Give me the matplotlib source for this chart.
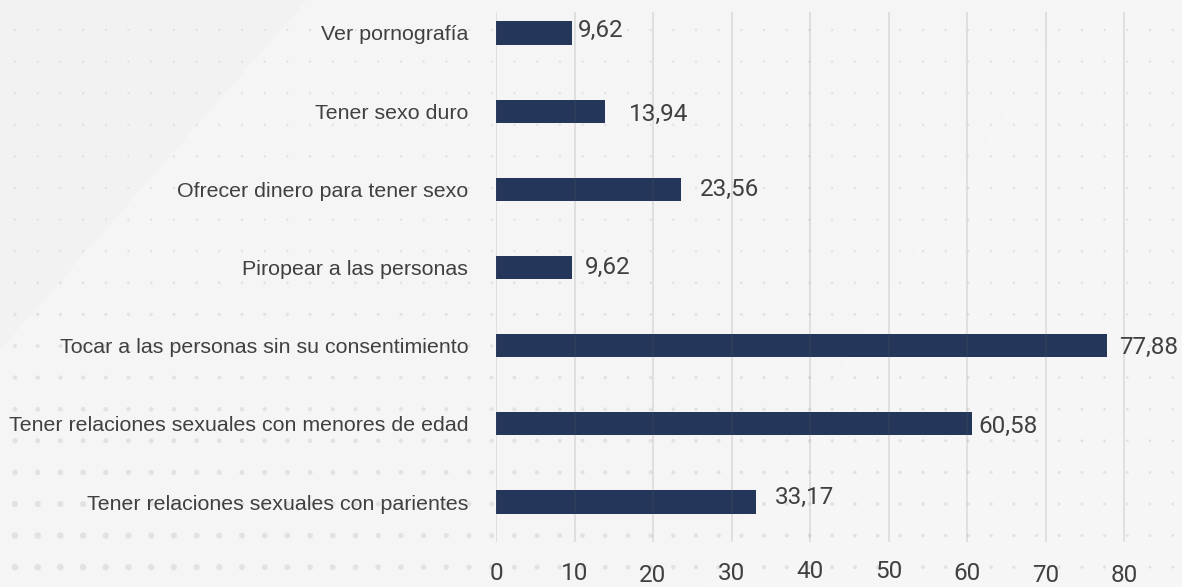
import numpy as np
import matplotlib
matplotlib.use("Agg")
import matplotlib.pyplot as plt
from matplotlib import font_manager as fm
from matplotlib.patches import Polygon

# ---------------- data ----------------
categories = [
    "Ver pornografía",
    "Tener sexo duro",
    "Ofrecer dinero para tener sexo",
    "Piropear a las personas",
    "Tocar a las personas sin su consentimiento",
    "Tener relaciones sexuales con menores de edad",
    "Tener relaciones sexuales con parientes",
]
values = [9.62, 13.94, 23.56, 9.62, 77.88, 60.58, 33.17]
value_labels = ["9,62", "13,94", "23,56", "9,62", "77,88", "60,58", "33,17"]
x_ticks = [0, 10, 20, 30, 40, 50, 60, 70, 80]
x_tick_labels = ["0", "10", "20", "30", "40", "50", "60", "70", "80"]

# ---------------- style ----------------
BAR = "#24375a"
TXT = "#404040"
BG = "#f4f4f4"
names = {f.name for f in fm.fontManager.ttflist}
narrow = "Liberation Sans Narrow" if "Liberation Sans Narrow" in names else "Roboto"
regular = "Liberation Sans" if "Liberation Sans" in names else "DejaVu Sans"
# small per-label nudges (pixels) to mimic the reference placement
label_dx = [6, 24, 19, 13, 12, 7, 18]
label_dy = [3, -3, 0, 0, -2, -3, 5]
tick_dy = [0, 1, 3, 1, -2, -1, 1, 2, 2]

W, H, DPI = 1182, 587, 100
fig = plt.figure(figsize=(W / DPI, H / DPI), dpi=DPI, facecolor=BG)

# background decoration
bg = fig.add_axes([0, 0, 1, 1], zorder=-5)
bg.set_xlim(0, W)
bg.set_ylim(H, 0)
bg.axis("off")
bg.add_patch(Polygon([[307, 0], [0, 350], [0, 0]], closed=True,
                     facecolor="#f2f2f2", edgecolor="none"))
bg.add_patch(Polygon([[307, 0], [1077, 0], [700, H], [0, H], [0, 350]], closed=True,
                     facecolor="#f5f5f5", edgecolor="none"))
bg.add_patch(Polygon([[1077, 0], [W, 0], [W, H], [700, H]], closed=True,
                     facecolor="#f6f6f6", edgecolor="none"))
xs = np.arange(15, W, 22.7)
ys = np.arange(30, H, 31.6)
gx, gy = np.meshgrid(xs, ys)
fy = np.clip((gy - 250) / 300, 0, 1)
fx = np.clip(1 - gx / 1300, 0, 1)
d = 2.4 + 4.5 * fy * fx
bg.scatter(gx.ravel(), gy.ravel(), s=(d.ravel() * 0.72) ** 2, c="#e2e2e2",
           edgecolors="none")

# main axes
left, right, top, bottom = 496, 1160, 12, 542
ax = fig.add_axes([left / W, 1 - bottom / H, (right - left) / W, (bottom - top) / H])
ax.patch.set_alpha(0)
px_per_unit = 7.85
ax.set_xlim(0, (right - left) / px_per_unit)
n = len(categories)
ypos = np.arange(n)[::-1]
spacing = 78.17
ax.set_ylim(-(bottom - 502) / spacing, (n - 1) + (33 - top) / spacing)

ax.barh(ypos, values, height=0.295, color=BAR, zorder=2)
for xv in x_ticks:
    ax.axvline(xv, color="#5f5f5f", alpha=0.15, lw=1.4, zorder=3)

for spine in ax.spines.values():
    spine.set_visible(False)
ax.set_xticks([])
ax.set_yticks(ypos)
ax.set_yticklabels(categories, fontsize=15.4, color=TXT, family=[regular, "DejaVu Sans"])
ax.tick_params(axis="y", length=0, pad=20)

for y, v, lab, dx, dy in zip(ypos, values, value_labels, label_dx, label_dy):
    ax.annotate(lab, (v, y), xytext=(dx * 0.72, dy * 0.72), textcoords="offset points",
                ha="left", va="center", fontsize=17.5, color=TXT,
                family=[narrow, "DejaVu Sans"])

for xv, lab, dy in zip(x_ticks, x_tick_labels, tick_dy):
    ax.annotate(lab, (xv, 0), xycoords=("data", "axes fraction"),
                xytext=(0, -(31 + dy) * 0.72), textcoords="offset points",
                ha="center", va="center", fontsize=17.5, color=TXT,
                family=[narrow, "DejaVu Sans"], annotation_clip=False)

fig.savefig("out.png", dpi=DPI, facecolor=BG)
